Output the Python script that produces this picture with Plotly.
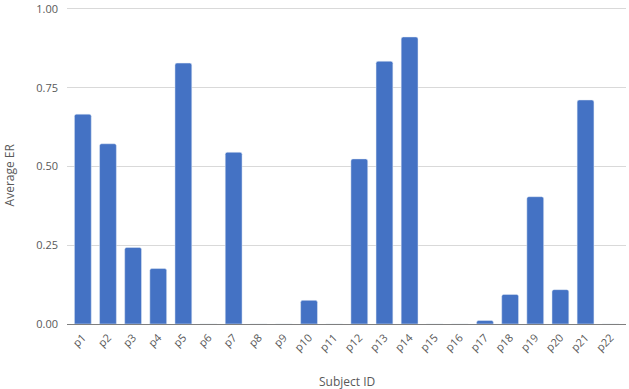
import plotly.graph_objects as go

subjects = [f"p{i}" for i in range(1, 23)]
avg_er = [0.666, 0.572, 0.243, 0.176, 0.828, 0.0, 0.545, 0.0, 0.0, 0.075, 0.0,
          0.524, 0.834, 0.911, 0.0, 0.0, 0.011, 0.094, 0.404, 0.109, 0.711, 0.0]
y_ticks = [0, 0.25, 0.5, 0.75, 1.0]
y_tick_labels = ["0.00", "0.25", "0.50", "0.75", "1.00"]

fig = go.Figure(go.Bar(x=subjects, y=avg_er, marker=dict(color="#4472C4", cornerradius=2),
                       hoverinfo="x+y"))

font_fam = "Open Sans, Lato, sans-serif"
grey = "#595959"
fig.update_layout(
    width=629, height=389,
    margin=dict(l=67, r=3, t=7, b=65, autoexpand=False),
    paper_bgcolor="white", plot_bgcolor="white",
    bargap=0.33,
    showlegend=False,
    font=dict(family=font_fam, color=grey, size=11),
    annotations=[
        dict(text="Average ER", xref="paper", yref="paper", x=-0.103, y=0.47,
             textangle=-90, showarrow=False, xanchor="center", yanchor="middle",
             font=dict(size=12, color=grey)),
        dict(text="Subject ID", xref="paper", yref="paper", x=0.5, y=-0.18,
             showarrow=False, xanchor="center", yanchor="middle",
             font=dict(size=12, color=grey)),
    ],
)
fig.update_xaxes(
    range=[-0.63, 21.61],
    tickangle=-45, tickfont=dict(size=11, color=grey),
    showgrid=False, showline=True, linecolor="#7f7f7f", linewidth=1,
    ticks="", automargin=False, ticklabelstandoff=2,
)
fig.update_yaxes(
    range=[0, 1.006], tickvals=y_ticks, ticktext=y_tick_labels,
    tickfont=dict(size=11, color=grey),
    showgrid=True, gridcolor="#d9d9d9", gridwidth=1, zeroline=False,
    ticks="", ticklen=0, automargin=False, ticklabelstandoff=8,
)
fig.write_html("out.html", config={"displayModeBar": False},
               post_script="document.body.style.margin='0';document.body.style.padding='0';")
